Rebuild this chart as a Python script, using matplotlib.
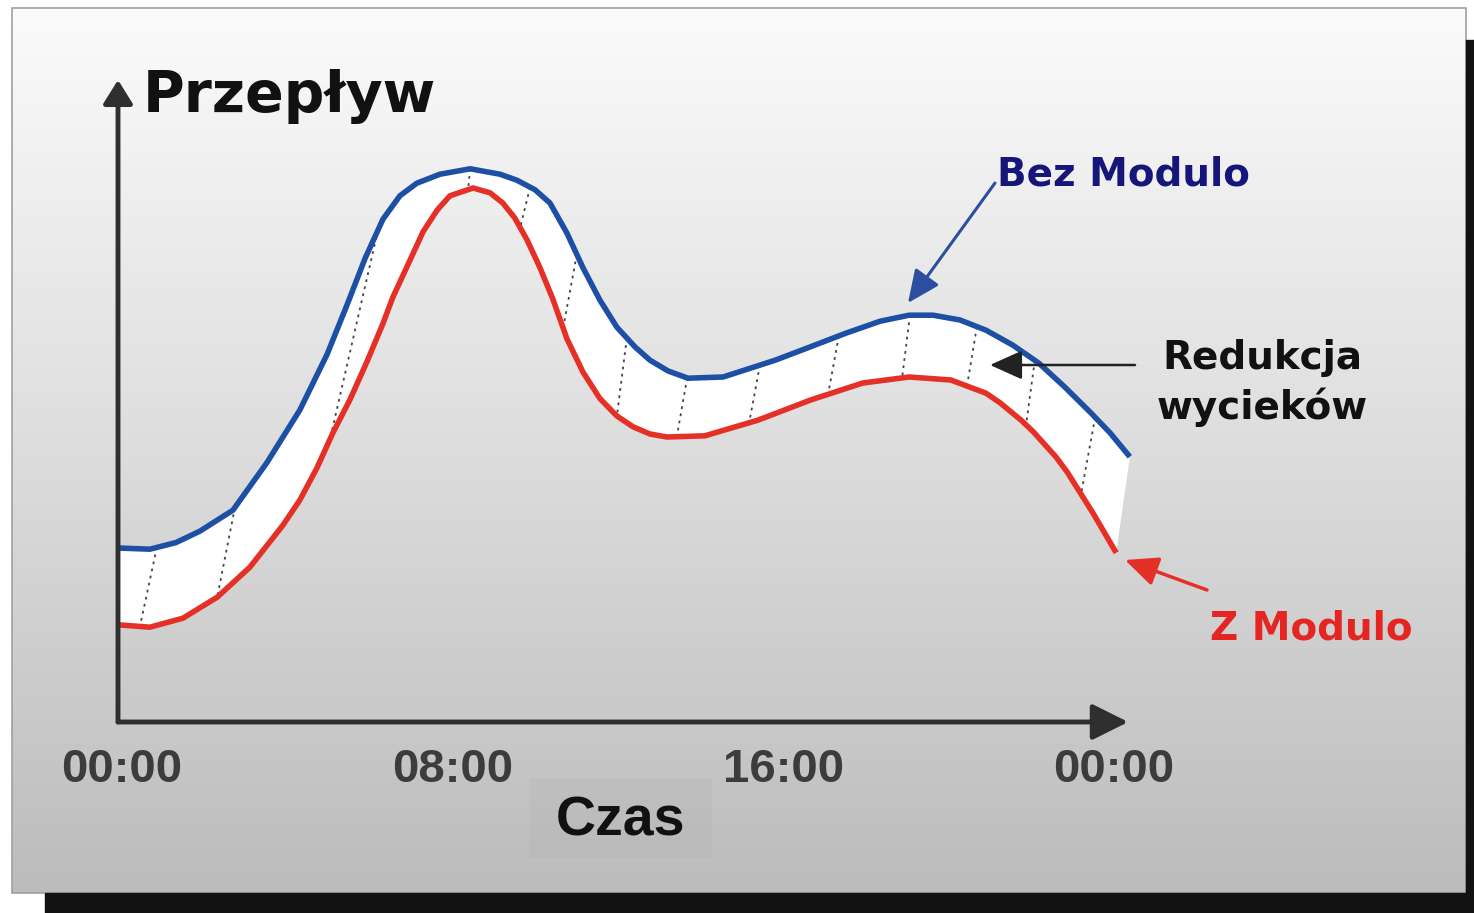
import numpy as np
import matplotlib
matplotlib.use("Agg")
import matplotlib.pyplot as plt
from matplotlib.colors import LinearSegmentedColormap
from matplotlib.patches import Rectangle

# Flow over one day (hours, arbitrary flow units)
blue_hours = [0.00, 0.77, 1.40, 1.98, 2.78, 3.60, 4.40, 5.06, 5.54, 5.98, 6.41, 6.82, 7.23,
              7.79, 8.52, 9.24, 9.65, 10.09, 10.45, 10.86, 11.25, 11.66, 12.07,
              12.51, 12.87, 13.31, 13.79, 14.64, 15.90, 16.74, 17.61, 18.44, 19.14,
              19.72, 20.37, 21.00, 21.65, 22.28, 22.91, 23.54, 24.00, 24.48]
blue_flow = [29.0, 28.8, 29.9, 31.8, 35.3, 43.2, 52.0, 61.3, 69.5, 77.3, 83.8, 87.7, 89.8,
             91.3, 92.2, 91.3, 90.3, 88.7, 86.5, 81.5, 75.7, 70.3, 65.8,
             62.5, 60.3, 58.5, 57.3, 57.5, 60.3, 62.5, 64.8, 66.8, 67.8,
             67.8, 67.0, 65.3, 62.8, 59.8, 55.8, 51.5, 48.2, 44.2]

red_hours = [0.00, 0.77, 1.57, 2.40, 3.19, 3.99, 4.40, 4.81, 5.20, 5.61, 6.02, 6.41,
             6.65, 7.06, 7.38, 7.72, 8.03, 8.59, 9.00, 9.31, 9.60, 9.90, 10.21,
             10.52, 10.86, 11.25, 11.66, 12.07, 12.46, 12.87, 13.28, 14.20, 15.48,
             16.77, 18.02, 19.14, 20.15, 21.00, 21.34, 21.85, 22.14, 22.69, 22.96,
             23.59, 24.15]
red_flow = [16.2, 15.8, 17.3, 20.8, 25.8, 32.8, 37.0, 42.3, 48.2, 53.7, 60.0, 66.4,
            70.8, 76.9, 81.7, 85.3, 87.7, 89.0, 88.2, 86.5, 84.0, 80.3, 75.7,
            70.5, 63.9, 58.3, 53.9, 51.0, 49.2, 48.0, 47.5, 47.7, 50.3,
            53.7, 56.5, 57.5, 57.0, 54.8, 53.2, 50.3, 48.4, 44.2, 41.7,
            34.8, 28.2]

# dotted links between the two curves (hour on blue curve, hour on red curve)
link_blue_hours = [0.94, 2.83, 6.29, 8.52, 9.97, 11.10, 12.31, 13.77, 15.53, 17.44,
                   19.16, 20.78, 22.18, 23.64]
link_red_hours = [0.53, 2.40, 5.13, 8.47, 9.73, 10.77, 12.07, 13.52, 15.27, 17.18,
                  18.97, 20.54, 21.97, 23.30]

tick_hours = [0, 8, 16, 24]
tick_labels = ["00:00", "08:00", "16:00", "00:00"]

W, H = 1474, 913
fig = plt.figure(figsize=(W / 100, H / 100), dpi=100)
fig.patch.set_facecolor("white")

# background panel (pixel coordinates)
bg = fig.add_axes([0, 0, 1, 1], zorder=0)
bg.set_xlim(0, W)
bg.set_ylim(H, 0)
bg.axis("off")
cmap = LinearSegmentedColormap.from_list(
    "panel", [(0, "#fbfbfb"), (0.45, "#e0e0e0"), (1, "#bcbcbc")])
bg.imshow(np.linspace(0, 1, 256).reshape(-1, 1), cmap=cmap, aspect="auto",
          extent=(12, 1466, 893, 8), zorder=0)
bg.add_patch(Rectangle((12, 8), 1454, 885, fill=False, edgecolor="#a0a0a0", lw=1.2, zorder=1))
bg.add_patch(Rectangle((45, 893), 1429, 20, color="#121212", zorder=1))
bg.add_patch(Rectangle((1466, 40), 8, 873, color="#121212", zorder=1))
bg.add_patch(Rectangle((530, 778), 182, 80, color="#a8a8a8", alpha=0.18, lw=0, zorder=1))

# chart area: x = hours, y = flow
ax = fig.add_axes([118 / W, (H - 722) / H, 992 / W, 600 / H], zorder=1)
ax.set_xlim(0, 24)
ax.set_ylim(0, 100)
ax.axis("off")
ax.patch.set_alpha(0)

ax.fill(np.concatenate([blue_hours, red_hours[::-1]]),
        np.concatenate([blue_flow, red_flow[::-1]]),
        color="white", lw=0, zorder=1, clip_on=False)

for hb, hr in zip(link_blue_hours, link_red_hours):
    yb = np.interp(hb, blue_hours, blue_flow)
    yr = np.interp(hr, red_hours, red_flow)
    ax.plot([hb, hr], [yb, yr], color="#444444", lw=1.3, ls=(0, (1.5, 2.5)), zorder=2)

ax.plot(blue_hours, blue_flow, color="#1d4fa5", lw=4, solid_capstyle="butt",
        solid_joinstyle="round", zorder=3, clip_on=False)
ax.plot(red_hours, red_flow, color="#e53027", lw=4, solid_capstyle="butt",
        solid_joinstyle="round", zorder=3, clip_on=False)

# axes with arrow heads
ax.annotate("", xy=(0, 107), xytext=(0, 0), annotation_clip=False,
            arrowprops=dict(arrowstyle="-|>,head_length=0.8,head_width=0.5",
                            mutation_scale=18, lw=3.5, color="#2f2f2f",
                            shrinkA=0, shrinkB=0))
ax.annotate("", xy=(24.44, 0), xytext=(0, 0), annotation_clip=False,
            arrowprops=dict(arrowstyle="-|>,head_length=1.1,head_width=0.55",
                            mutation_scale=20, lw=3.5, color="#2f2f2f",
                            shrinkA=0, shrinkB=0))

for h, lab in zip(tick_hours, tick_labels):
    ax.text(h + 0.1, -0.08, lab, transform=ax.get_xaxis_transform(),
            ha="center", va="center", fontsize=34, fontweight="bold",
            family="Liberation Sans", color="#3c3c3c")

# labels and pointers on top
ov = fig.add_axes([0, 0, 1, 1], zorder=2)
ov.set_xlim(0, W)
ov.set_ylim(H, 0)
ov.axis("off")
ov.patch.set_alpha(0)

ov.text(143, 112, "Przepływ", ha="left", va="baseline", fontsize=41,
        fontweight="bold", family="DejaVu Sans", color="#111111")
ov.text(621, 835, "Czas", ha="center", va="baseline", fontsize=40,
        fontweight="bold", family="Liberation Sans", color="#111111")
ov.text(997, 186, "Bez Modulo", ha="left", va="baseline", fontsize=28,
        fontweight="bold", family="DejaVu Sans", color="#16167a")
ov.text(1262, 383, "Redukcja\nwycieków", ha="center", va="center", fontsize=28,
        fontweight="bold", family="DejaVu Sans", color="#111111", linespacing=1.35)
ov.text(1210, 640, "Z Modulo", ha="left", va="baseline", fontsize=28,
        fontweight="bold", family="DejaVu Sans", color="#e52521")

ov.annotate("", xy=(908, 303), xytext=(995, 183),
            arrowprops=dict(arrowstyle="-|>,head_length=1.0,head_width=0.45",
                            mutation_scale=20, lw=2.2, color="#2b4ea0",
                            shrinkA=0, shrinkB=0))
ov.annotate("", xy=(990, 365), xytext=(1135, 365),
            arrowprops=dict(arrowstyle="-|>,head_length=1.0,head_width=0.45",
                            mutation_scale=20, lw=1.8, color="#222222",
                            shrinkA=0, shrinkB=0))
ov.annotate("", xy=(1125, 560), xytext=(1207, 590),
            arrowprops=dict(arrowstyle="-|>,head_length=1.0,head_width=0.45",
                            mutation_scale=20, lw=2.5, color="#e53027",
                            shrinkA=0, shrinkB=0))

fig.savefig("out.png", dpi=100)
